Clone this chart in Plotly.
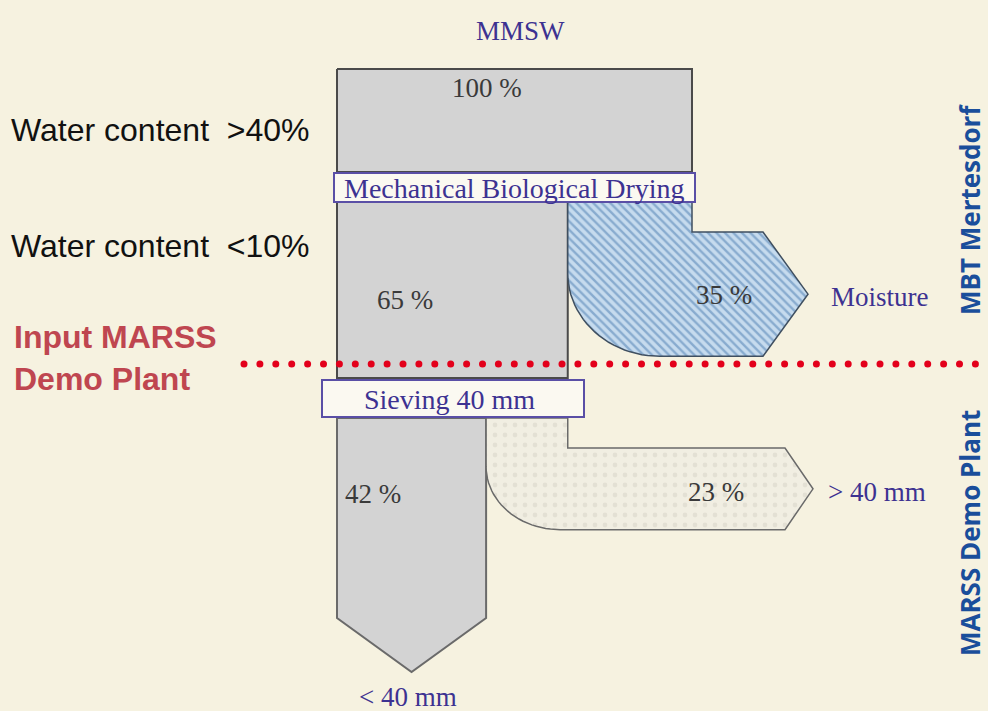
import numpy as np
import plotly.graph_objects as go

# data ###########################################################################################################
flow_names = ['MMSW', 'Dried', 'Moisture', '< 40 mm', '> 40 mm']
flow_shares = [100, 65, 35, 42, 23]
flow_labels = ['100 %', '65 %', '35 %', '42 %', '23 %']
stage_names = ['Mechanical Biological Drying', 'Sieving 40 mm']
side_labels = ['Water content  >40%', 'Water content  <10%']
input_label = 'Input MARSS<br>Demo Plant'
section_labels = ['MBT Mertesdorf', 'MARSS Demo Plant']

# style ##########################################################################################################
BG = '#F6F2E0'
GRAY = '#D3D3D3'
PURPLE = '#3D3291'
SERIF = 'Liberation Serif, Times New Roman, serif'
SANS = 'Liberation Sans, Arial, sans-serif'

SCALE = 3.55      # pixels per percent of flow
X0 = 337          # left edge of the flow column


def width(share):
    return share * SCALE


def bend_polygon(x_left, x_right, y_top, y_notch, share, body_end, tip_len, rx, ry):
    # vertical band leaving a column that bends right into an arrow
    y_bot = y_notch + width(share)
    y_mid = (y_notch + y_bot) / 2
    t = np.linspace(np.pi / 2, np.pi, 25)
    cx, cy = x_left + rx, y_bot - ry
    arc_x = cx + rx * np.cos(t)
    arc_y = cy + ry * np.sin(t)
    xs = [x_left, x_right, x_right, body_end, body_end + tip_len, body_end] + list(arc_x) + [x_left]
    ys = [y_top, y_top, y_notch, y_notch, y_mid, y_bot] + list(arc_y) + [y_top]
    return xs, ys, y_mid


fig = go.Figure()

x_100 = X0 + width(flow_shares[0])
x_65 = X0 + width(flow_shares[1])
x_42 = X0 + width(flow_shares[3])

# MMSW input box
fig.add_trace(go.Scatter(
    x=[X0, x_100, x_100, X0, X0], y=[69, 69, 172, 172, 69],
    fill='toself', fillcolor=GRAY, mode='lines',
    line=dict(color='#4A4A4A', width=2), hoverinfo='skip'
))

# dried column
fig.add_trace(go.Scatter(
    x=[X0, x_65, x_65, X0, X0], y=[202, 202, 378, 378, 202],
    fill='toself', fillcolor=GRAY, mode='lines',
    line=dict(color='#4A4A4A', width=2), hoverinfo='skip'
))

# moisture branch (hatched)
mx, my, m_mid = bend_polygon(x_65, x_100, 202, 232, flow_shares[2], 763, 45, 92, 83)
fig.add_trace(go.Scatter(
    x=mx, y=my, fill='toself', fillcolor='#C9DDEF', mode='lines',
    fillpattern=dict(shape='\\', fgcolor='#4A7BB0', bgcolor='#C6DBEE', size=6, solidity=0.4),
    line=dict(color='#3F4F60', width=1.5), hoverinfo='skip'
))

# fine fraction column with arrow tip
fine_mid = (X0 + x_42) / 2
fig.add_trace(go.Scatter(
    x=[X0, x_42, x_42, fine_mid, X0, X0], y=[418, 418, 618, 672, 618, 418],
    fill='toself', fillcolor=GRAY, mode='lines',
    line=dict(color='#6A6A6A', width=2), hoverinfo='skip'
))

# coarse fraction branch (dotted)
cx_, cy_, c_mid = bend_polygon(x_42, x_65, 418, 448, flow_shares[4], 785, 28, 74, 63)
fig.add_trace(go.Scatter(
    x=cx_, y=cy_, fill='toself', fillcolor='#F1EEE2', mode='lines',
    fillpattern=dict(shape='.', fgcolor='#D6D2C6', bgcolor='#F1EEE2', size=10, solidity=0.18),
    line=dict(color='#6A6A6A', width=1.5), hoverinfo='skip'
))

# red dotted border between the plants
dots_x = np.arange(244, 988, 15.9)
fig.add_trace(go.Scatter(
    x=dots_x, y=[364] * len(dots_x), mode='markers',
    marker=dict(color='#E3001B', size=7), hoverinfo='skip'
))

# process stage boxes
for name, (x0, x1, y0, y1), dx in zip(stage_names, [(334, 695, 173, 202), (322, 584, 380, 417)], [0, -4]):
    fig.add_shape(type='rect', x0=x0, x1=x1, y0=y0, y1=y1, layer='above',
                  fillcolor='#FBF9F1', line=dict(color='#5A4FA6', width=2))
    fig.add_annotation(x=(x0 + x1) / 2 + dx, y=(y0 + y1) / 2 + 1,
                       text=name, showarrow=False,
                       font=dict(family=SERIF, size=28, color=PURPLE))

# percent labels
for lab, (x, y) in zip(flow_labels, [(487, 88), (405, 300), (724, 295), (373, 494), (716, 492)]):
    fig.add_annotation(x=x, y=y, text=lab, showarrow=False,
                       font=dict(family=SERIF, size=27, color='#3A3A3A'))

# flow names at the ends
for name, (x, y) in zip(['MMSW', 'Moisture', '> 40 mm', '< 40 mm'],
                        [(520, 31), (880, 297), (877, 492), (408, 697)]):
    fig.add_annotation(x=x, y=y, text=name, showarrow=False,
                       font=dict(family=SERIF, size=27, color=PURPLE))

# left side labels
for lab, y in zip(side_labels, [130, 246]):
    fig.add_annotation(x=9, y=y, text=lab, showarrow=False, xanchor='left',
                       font=dict(family=SANS, size=32, color='#111111'))

fig.add_annotation(x=12, y=358, text=input_label, showarrow=False, xanchor='left', align='left',
                   font=dict(family=SANS, size=32, color='#BF4650', weight='bold'))

# right section labels
for lab, y in zip(section_labels, [210, 533]):
    fig.add_annotation(x=970, y=y, text=lab, showarrow=False, textangle=-90,
                       font=dict(family='Open Sans, sans-serif', size=26, color='#1A4E9B', weight='bold'))

fig.update_layout(
    width=988,
    height=711,
    margin=dict(l=0, r=0, t=0, b=0),
    paper_bgcolor=BG,
    plot_bgcolor=BG,
    showlegend=False,
    xaxis=dict(range=[0, 988], visible=False, fixedrange=True),
    yaxis=dict(range=[711, 0], visible=False, fixedrange=True)
)

fig.write_html('out.html', config={'displayModeBar': False},
               post_script="document.body.style.margin='0px'; document.body.style.overflow='hidden';")
